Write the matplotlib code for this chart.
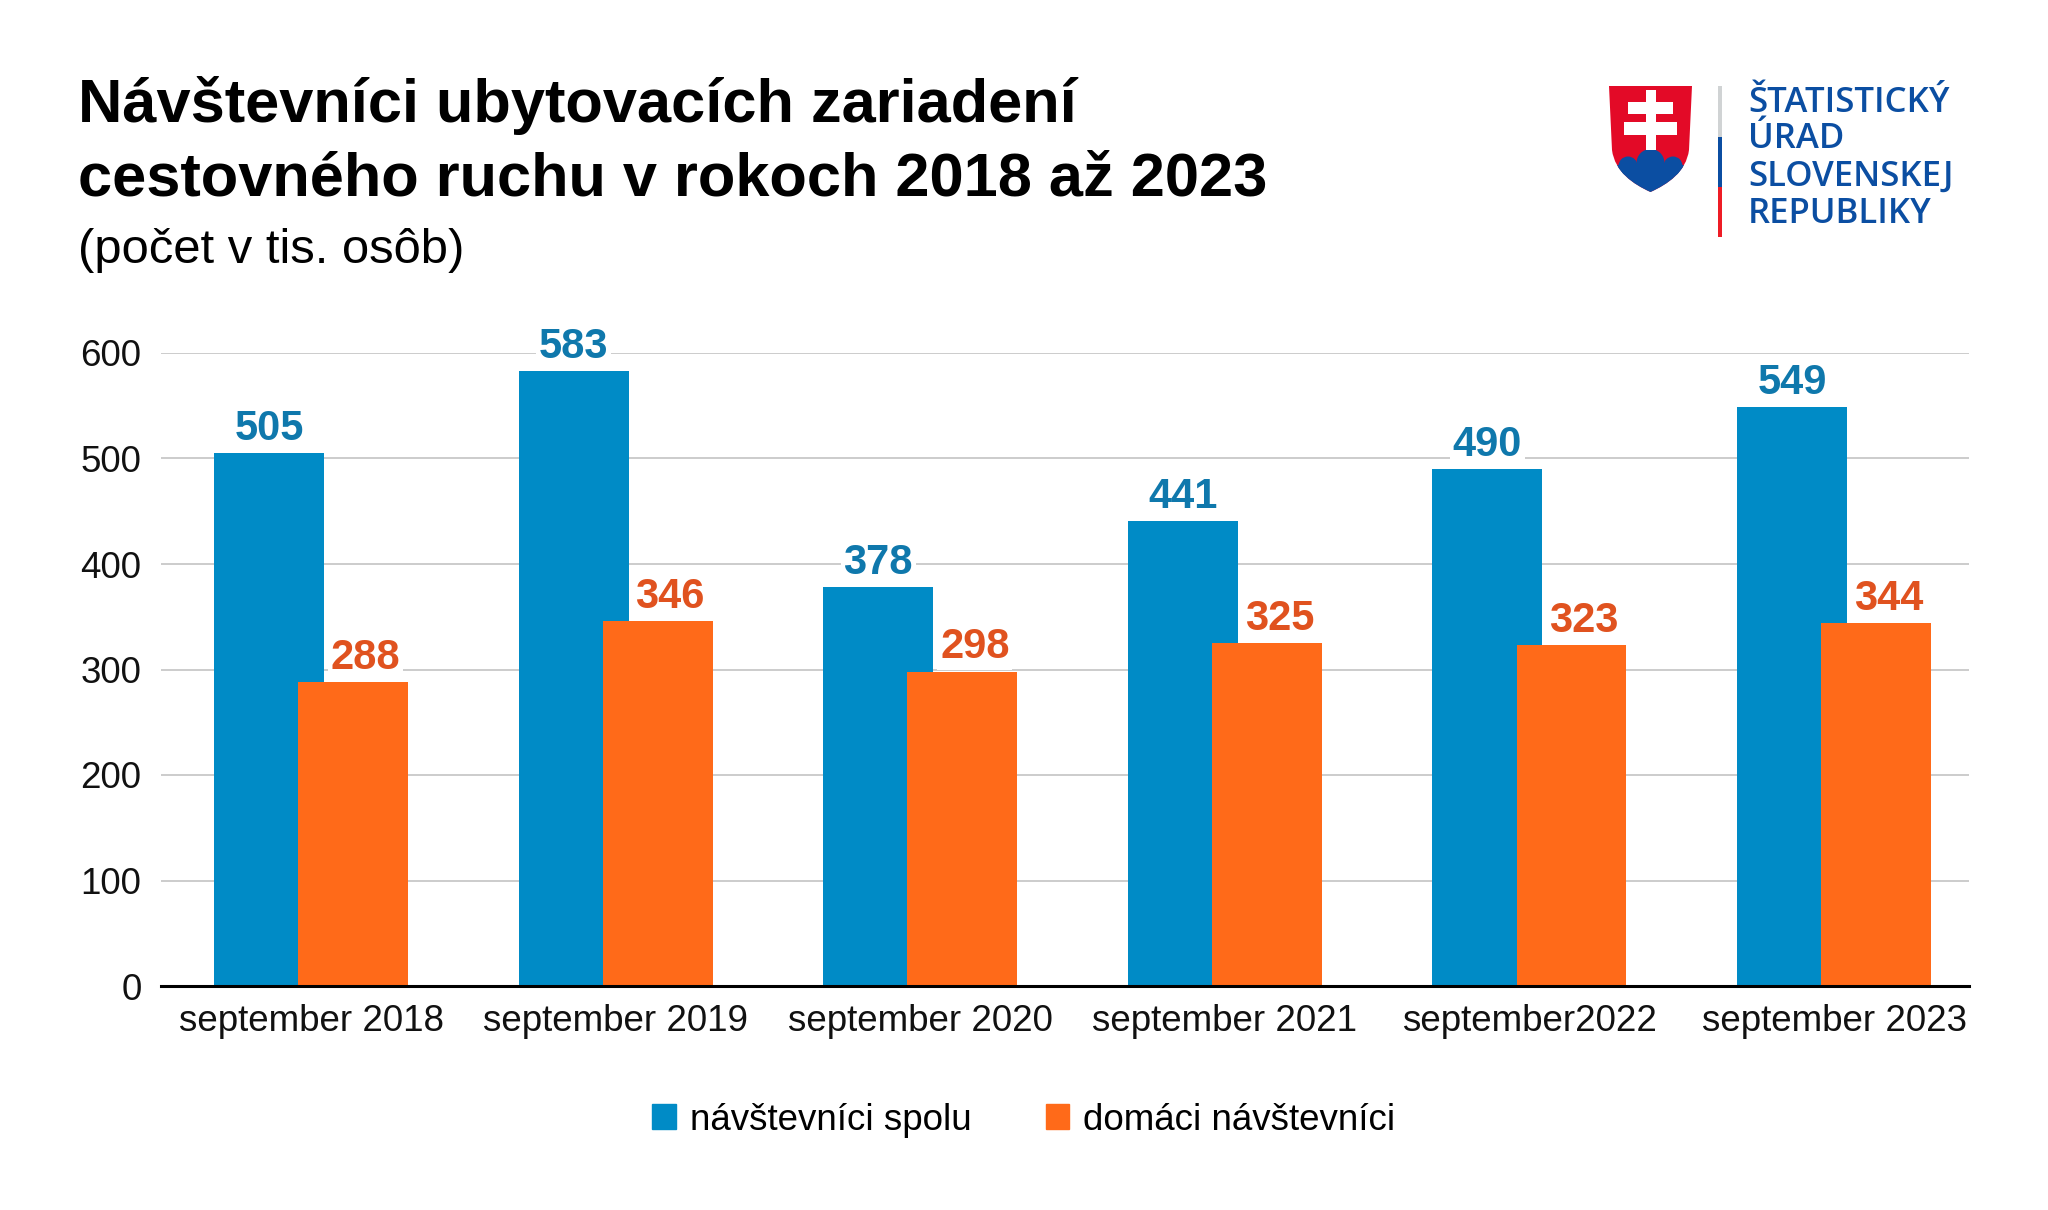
import matplotlib
matplotlib.use("Agg")
import matplotlib.pyplot as plt
import numpy as np
from matplotlib.patches import Patch, Rectangle, Circle, PathPatch
from matplotlib.path import Path

plt.rcParams['font.family'] = ['Liberation Sans', 'DejaVu Sans']

# data (tis. osob)
categories = ['september 2018', 'september 2019', 'september 2020',
              'september 2021', 'september2022', 'september 2023']
spolu = [505, 583, 378, 441, 490, 549]
domaci = [288, 346, 298, 325, 323, 344]
series_names = ['návštevníci spolu', 'domáci návštevníci']
yticks = [0, 100, 200, 300, 400, 500, 600]

blue = '#008bc6'
orange = '#ff6a19'
blue_lbl = '#0f78ac'
orange_lbl = '#e0521f'

W, H = 2048, 1210
fig = plt.figure(figsize=(W / 100, H / 100), dpi=100)

ax = fig.add_axes([161 / W, 1 - 986 / H, (1969 - 161) / W, (986 - 353) / H])
x = np.arange(len(categories))
off = 0.138
bw = 0.361
ax.bar(x - off, spolu, bw, color=blue, zorder=2)
ax.bar(x + off, domaci, bw, color=orange, zorder=2.1)

for xi, v in zip(x, spolu):
    ax.annotate(str(v), (xi - off, v), xytext=(0, 9.5), textcoords='offset points',
                ha='center', va='baseline', fontsize=30, fontweight='bold', color=blue_lbl,
                bbox=dict(facecolor='white', edgecolor='none', pad=2), zorder=5,
                annotation_clip=False)
for xi, v in zip(x, domaci):
    ax.annotate(str(v), (xi + off, v), xytext=(9, 9.5), textcoords='offset points',
                ha='center', va='baseline', fontsize=30, fontweight='bold', color=orange_lbl,
                bbox=dict(facecolor='white', edgecolor='none', pad=2), zorder=5,
                annotation_clip=False)

ax.set_xlim(-0.4925, 5.443)
ax.set_ylim(0, 600)
ax.set_yticks(yticks)
ax.set_xticks(x)
ax.set_xticklabels(categories)
ax.tick_params(axis='both', length=0, labelsize=26.5, colors='#111111')
ax.tick_params(axis='y', pad=14)
ax.tick_params(axis='x', pad=13)
ax.grid(axis='y', color='#c4c4c4', linewidth=1.2, zorder=0)
ax.set_axisbelow(True)
for s in ['top', 'right', 'left']:
    ax.spines[s].set_visible(False)
ax.spines['bottom'].set_linewidth(2.2)
ax.spines['bottom'].set_color('black')
ax.spines['bottom'].set_zorder(3)

fig.legend([Patch(color=blue), Patch(color=orange)], series_names,
           loc='center', bbox_to_anchor=(0.5, 1 - 1120 / H), ncol=2, frameon=False,
           fontsize=26.5, handlelength=0.65, handleheight=0.65, handletextpad=0.38,
           columnspacing=2.0)

# overlay in pixel coordinates for title and logo
ov = fig.add_axes([0, 0, 1, 1])
ov.set_xlim(0, W)
ov.set_ylim(H, 0)
ov.axis('off')

ov.text(78, 122, 'Návštevníci ubytovacích zariadení', fontsize=44.2, fontweight='bold',
        va='baseline', ha='left', color='black')
ov.text(78, 195, 'cestovného ruchu v rokoch 2018 až 2023', fontsize=44.2, fontweight='bold',
        va='baseline', ha='left', color='black')
ov.text(78, 263, '(počet v tis. osôb)', fontsize=35.3, va='baseline', ha='left', color='black')

# logo
sk_red = '#e30a27'
sk_blue = '#0b4ea2'
verts = [(1609, 86), (1692, 86), (1689, 150),
         (1686, 172), (1668, 184), (1650.5, 192),
         (1633, 184), (1615, 172), (1612, 150), (1609, 86)]
codes = [Path.MOVETO, Path.LINETO, Path.LINETO,
         Path.CURVE4, Path.CURVE4, Path.CURVE4,
         Path.CURVE4, Path.CURVE4, Path.CURVE4, Path.CLOSEPOLY]
shield = PathPatch(Path(verts, codes), facecolor=sk_red, edgecolor='none')
ov.add_patch(shield)
for p in [Circle((1628, 166), 9.5), Circle((1650.5, 163), 14), Circle((1673, 166), 9.5),
          Rectangle((1600, 165), 100, 35)]:
    p.set_facecolor(sk_blue)
    p.set_edgecolor('none')
    ov.add_patch(p)
    p.set_clip_path(shield)
for r in [Rectangle((1645.5, 90), 10, 60), Rectangle((1628, 102), 45, 12),
          Rectangle((1624, 122), 53, 13)]:
    r.set_facecolor('white')
    r.set_edgecolor('none')
    ov.add_patch(r)

ov.add_patch(Rectangle((1718, 86), 4, 51, facecolor='#d0d3d4', edgecolor='none'))
ov.add_patch(Rectangle((1718, 137), 4, 50, facecolor=sk_blue, edgecolor='none'))
ov.add_patch(Rectangle((1718, 187), 4, 50, facecolor='#ee1c25', edgecolor='none'))

logo_lines = ['ŠTATISTICKÝ', 'ÚRAD', 'SLOVENSKEJ', 'REPUBLIKY']
logo_y = [112, 148, 186, 223]
for t, yy in zip(logo_lines, logo_y):
    ov.text(1748, yy, t, fontsize=25, fontweight='semibold',
            family=['Open Sans', 'DejaVu Sans'],
            color=sk_blue, va='baseline', ha='left')

fig.savefig('out.png', dpi=100)
